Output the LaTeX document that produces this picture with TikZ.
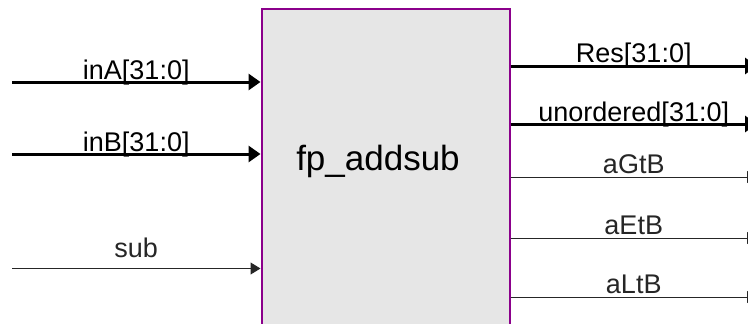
\documentclass[tikz,border=0pt]{standalone}
\usepackage{fontspec}
\setmainfont{Liberation Sans}
\usetikzlibrary{arrows.meta}
\definecolor{boxpurple}{RGB}{139,0,139}
\definecolor{boxfill}{RGB}{230,230,230}
\begin{document}
\begin{tikzpicture}[x=1pt,y=-1pt,
  bus/.style={line width=3pt, black, -{Triangle[length=12pt,width=16pt]}},
  wire/.style={line width=1pt, black!85, -{Triangle[length=10pt,width=12pt]}},
  lbl/.style={font=\fontsize{27}{30}\selectfont, anchor=base, inner sep=0pt},
  blockbox/.style={draw=boxpurple, fill=boxfill, line width=2pt, inner sep=0pt, anchor=north west}]
\useasboundingbox (0,0) rectangle (748,324);
\clip (0,0) rectangle (748,324);
\node[blockbox, minimum width=248pt, minimum height=340pt] (blk) at (260.5,8) {};
\node[font=\fontsize{35}{40}\selectfont, anchor=base, inner sep=0pt] (title) at (378,170) {fp\_addsub};
% inputs
\coordinate (inAs) at (12,82);
\coordinate (inBs) at (12,154);
\coordinate (subs) at (12,268.5);
\draw[bus] (inAs) -- (blk.west |- inAs) node[lbl, midway, yshift=3pt] (inAl) {inA[31:0]};
\draw[bus] (inBs) -- (blk.west |- inBs) node[lbl, midway, yshift=3pt] (inBl) {inB[31:0]};
\draw[wire] (subs) -- (blk.west |- subs) node[lbl, midway, yshift=11pt] (subl) {sub};
% outputs
\coordinate (rese) at (757,66);
\coordinate (unoe) at (757,124);
\coordinate (gte) at (757,177);
\coordinate (ete) at (757,238);
\coordinate (lte) at (757,297);
\draw[bus] (blk.east |- rese) -- (rese) node[lbl, pos=0.5, yshift=3pt] (resl) {Res[31:0]};
\draw[bus] (blk.east |- unoe) -- (unoe) node[lbl, pos=0.5, yshift=3pt] (unol) {unordered[31:0]};
\draw[wire] (blk.east |- gte) -- (gte) node[lbl, pos=0.5, yshift=4pt] (gtl) {aGtB};
\draw[wire] (blk.east |- ete) -- (ete) node[lbl, pos=0.5, yshift=4pt] (etl) {aEtB};
\draw[wire] (blk.east |- lte) -- (lte) node[lbl, pos=0.5, yshift=4pt] (ltl) {aLtB};
\end{tikzpicture}
\end{document}
